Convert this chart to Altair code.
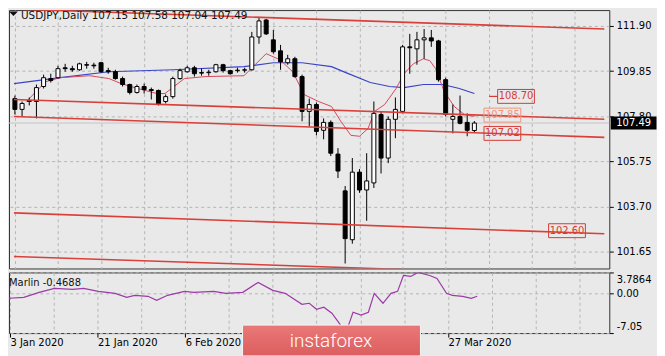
import altair as alt
import pandas as pd

# ---------------- data ----------------
# daily candles, bar index 0 = 3 Jan 2020
c_open = [108.60, 108.11, 108.51, 108.47, 109.15, 109.51, 109.55, 110.00, 109.96, 109.91,
          110.14, 110.12, 110.23, 109.87, 109.82, 109.51, 109.24, 108.88, 109.15, 109.01,
          108.97, 108.47, 108.69, 109.51, 109.82, 110.00, 109.78, 109.78, 109.82, 110.14,
          109.87, 109.87, 109.89, 109.91, 111.40, 112.17, 111.27, 110.77, 110.23, 110.41,
          109.60, 108.02, 108.33, 107.16, 107.52, 106.08, 104.41, 102.19, 105.26, 104.45,
          104.77, 107.88, 105.90, 107.66, 108.02, 110.95, 110.86, 111.27, 111.36, 111.22,
          109.46, 107.66, 107.79, 107.52, 107.15]
c_high = [108.74, 108.47, 108.65, 109.24, 109.69, 109.73, 110.09, 110.18, 110.09, 110.23,
          110.27, 110.23, 110.27, 110.00, 109.91, 109.60, 109.28, 109.24, 109.28, 109.10,
          109.01, 108.79, 109.60, 109.96, 110.09, 110.09, 109.96, 109.91, 110.18, 110.18,
          109.91, 110.00, 110.00, 111.63, 112.31, 112.22, 111.72, 111.04, 110.59, 110.50,
          109.69, 108.60, 108.42, 107.70, 107.61, 106.35, 104.63, 105.90, 105.40, 106.12,
          108.47, 108.02, 107.79, 108.65, 111.04, 111.54, 111.63, 111.76, 111.72, 111.27,
          109.55, 108.33, 108.74, 107.93, 107.58]
c_low = [107.88, 107.79, 108.29, 107.70, 109.06, 109.33, 109.51, 109.82, 109.82, 109.87,
         109.96, 109.96, 109.78, 109.73, 109.46, 109.15, 108.79, 108.83, 108.83, 108.56,
         108.29, 108.38, 108.60, 109.46, 109.78, 109.60, 109.64, 109.64, 109.78, 109.78,
         109.69, 109.78, 109.78, 109.87, 111.09, 111.49, 110.64, 109.91, 110.14, 109.55,
         107.57, 107.34, 106.93, 106.75, 105.99, 104.99, 101.11, 102.01, 104.32, 103.05,
         104.54, 105.20, 105.67, 106.80, 107.93, 109.73, 110.14, 110.41, 110.95, 109.37,
         107.79, 107.02, 107.43, 106.89, 107.04]
c_close = [108.11, 108.38, 108.47, 109.10, 109.55, 109.42, 109.96, 109.96, 109.91, 110.18,
           110.12, 110.09, 109.82, 109.82, 109.51, 109.24, 108.88, 109.15, 109.01, 108.97,
           108.33, 108.69, 109.51, 109.87, 110.00, 109.73, 109.76, 109.80, 110.14, 109.87,
           109.73, 109.89, 109.91, 111.40, 112.13, 111.54, 110.73, 110.27, 110.41, 109.60,
           108.02, 108.33, 107.11, 107.52, 106.12, 105.31, 102.24, 105.26, 104.45, 104.86,
           107.93, 105.90, 107.66, 108.11, 110.95, 110.91, 111.27, 111.36, 111.22, 109.46,
           107.88, 107.79, 107.48, 107.16, 107.49]

# slow moving average (blue)
blue_idx = [-0.13, 6.3, 13.1, 22.1, 31.9, 36.0, 40.0, 44.1, 46.1, 49.5, 52.2, 54.2, 56.9, 59.6, 61.9, 64.0]
blue_val = [109.28, 109.55, 109.82, 109.91, 110.05, 110.23, 110.23, 110.05, 109.78, 109.33,
            109.15, 109.10, 109.24, 109.24, 109.06, 108.83]

# fast moving average (thin red)
red_idx = [1.6, 4.3, 6.3, 10.4, 13.1, 14.8, 17.1, 19.8, 20.9, 23.6, 26.5, 31.9, 32.9, 35.0,
           36.9, 38.7, 40.3, 42.3, 44.1, 45.4, 46.8, 48.0, 49.2, 50.1, 51.5, 53.1, 54.2, 55.5,
           56.9, 57.8, 58.6, 59.8, 61.2, 62.6, 64.0]
red_val = [108.47, 109.37, 109.55, 109.64, 109.51, 109.28, 109.06, 108.83, 108.83, 109.51,
           109.60, 109.64, 109.96, 110.64, 110.37, 109.82, 108.78, 108.47, 108.24, 107.57,
           106.93, 106.89, 107.25, 108.02, 108.33, 109.06, 109.73, 110.18, 110.41, 110.32,
           109.96, 108.92, 108.24, 107.88, 107.79]

# channel lines (start / end)
chan_names = ["c1", "c2", "c3", "c4", "c5"]
chan_idx0, chan_idx1 = -0.13, 82.1
chan_start = [112.67, 108.56, 107.79, 103.41, 101.43]
chan_end = [111.76, 107.66, 106.84, 102.46, 100.53]

# level labels
lvl_text = ["108.70", "107.85", "107.02", "102.60"]
lvl_val = [108.70, 107.85, 107.02, 102.60]
lvl_idx = [69.8, 67.9, 67.9, 76.9]
lvl_col = ["#d63a34", "#f0957c", "#d63a34", "#d63a34"]
lead_idx = [66.05, 67.26]

bid = 107.49
title_text = "USDJPY,Daily 107.15 107.58 107.04 107.49"

# Marlin oscillator
m_idx = [-0.13, 1.9, 4.0, 6.1, 8.6, 10.1, 12.1, 14.4, 16.0, 17.1, 18.9, 20.1, 21.6, 23.9, 25.2,
         27.9, 29.6, 31.9, 34.0, 36.0, 37.7, 40.0, 41.0, 42.0, 43.0, 44.1, 45.0, 46.0, 47.0,
         48.1, 49.1, 49.9, 51.1, 52.2, 53.1, 53.9, 54.9, 55.9, 57.5, 58.5, 59.8, 60.6, 62.0,
         63.2, 64.0]
m_val = [-0.83, -0.66, 0.23, 0.94, 0.76, 0.94, 0.41, 0.05, -0.66, -0.30, -0.48, -1.19, -0.30,
         0.41, 0.23, 0.41, 0.05, 0.23, 2.01, 0.59, 0.05, -1.90, -1.72, -2.79, -2.43, -3.50,
         -5.10, -7.05, -3.32, -3.85, -3.32, 0.05, -1.72, 0.05, 0.41, 3.25, 3.07, 3.79, 3.25,
         2.72, 0.05, -0.30, -0.48, -0.83, -0.47]
marlin_label = "Marlin -0.4688"

price_ticks = [111.90, 109.85, 107.80, 105.75, 103.70, 101.65]
marlin_ticks = [3.7864, 0.0, -7.05]
marlin_tick_labels = ["3.7864", "0.00", "-7.05"]
date_tick_idx = [0, 12, 24, 36, 48, 60]
# labels at 24 Feb and 11 Mar are hidden under the watermark in the original
date_tick_labels = ["3 Jan 2020", "21 Jan 2020", "6 Feb 2020", "", "", "27 Mar 2020"]
grid_idx = list(range(0, 84, 6))

# ---------------- styling ----------------
FONT = "DejaVu Sans"
BG = "#e9e9e9"
GRID = "#b4b4b4"
W, H_MAIN, H_IND = 604, 260, 61

xs = alt.Scale(domain=[-0.13, 82.1], nice=False, zero=False)
ys = alt.Scale(domain=[100.884, 112.622], nice=False, zero=False)
ms = alt.Scale(domain=[-7.05, 3.7864], nice=False, zero=False)

x_axis_main = alt.Axis(values=grid_idx, grid=True, gridColor=GRID, gridDash=[3, 3],
                       labels=False, ticks=False, domain=False, title=None)
y_axis_main = alt.Axis(orient="right", values=price_ticks, format=".2f", grid=True,
                       gridColor=GRID, gridDash=[3, 3], tickSize=4, tickColor="#000",
                       domain=False, title=None, labelPadding=3)


def X(field="idx"):
    return alt.X(f"{field}:Q", scale=xs, axis=x_axis_main)


def Y(field):
    return alt.Y(f"{field}:Q", scale=ys, axis=y_axis_main)


candles = pd.DataFrame({"idx": list(range(len(c_open))), "open": c_open, "high": c_high,
                        "low": c_low, "close": c_close})

bid_rule = alt.Chart(pd.DataFrame({"price": [bid]})).mark_rule(
    color="#c6c6c6", strokeWidth=1).encode(y=Y("price"))

blue = alt.Chart(pd.DataFrame({"idx": blue_idx, "price": blue_val})).mark_line(
    color="#3a44c6", strokeWidth=1.2, clip=True).encode(x=X(), y=Y("price"))

red = alt.Chart(pd.DataFrame({"idx": red_idx, "price": red_val})).mark_line(
    color="#d8485c", strokeWidth=1, clip=True).encode(x=X(), y=Y("price"))

wicks = alt.Chart(candles).mark_rule(color="#000", strokeWidth=1).encode(
    x=X(), y=Y("low"), y2="high")

bodies = alt.Chart(candles).mark_bar(size=4, stroke="#000", strokeWidth=1).encode(
    x=X(), y=Y("open"), y2="close",
    color=alt.condition("datum.close >= datum.open", alt.value("#ffffff"), alt.value("#000000")))

chan_rows = []
for n, a, b in zip(chan_names, chan_start, chan_end):
    chan_rows.append({"line": n, "idx": chan_idx0, "price": a})
    chan_rows.append({"line": n, "idx": chan_idx1, "price": b})
channels = alt.Chart(pd.DataFrame(chan_rows)).mark_line(
    color="#d9403a", strokeWidth=1.6, clip=True).encode(
    x=X(), y=Y("price"), detail="line:N")

lvl_df = pd.DataFrame({"idx": lvl_idx, "price": lvl_val, "t": lvl_text, "col": lvl_col})
lvl_box = alt.Chart(lvl_df).mark_point(
    shape="M-1,-0.378L1,-0.378L1,0.378L-1,0.378Z", size=1369, filled=False,
    strokeWidth=1, opacity=1).encode(x=X(), y=Y("price"), color=alt.Color("col:N", scale=None))
lvl_txt = alt.Chart(lvl_df).mark_text(font=FONT, fontSize=10, align="center",
                                      baseline="middle").encode(
    x=X(), y=Y("price"), text="t:N", color=alt.Color("col:N", scale=None))
lead = alt.Chart(pd.DataFrame({"a": [lead_idx[0]], "b": [lead_idx[1]], "price": [lvl_val[0]]})
                 ).mark_rule(color="#d63a34", strokeWidth=1.2).encode(
    x=X("a"), x2="b", y=Y("price"))

title_df = pd.DataFrame({"t": [title_text]})
title = alt.Chart(title_df).mark_text(font=FONT, fontSize=10.5, align="left",
                                      baseline="alphabetic", color="#111").encode(
    x=alt.value(12), y=alt.value(8.6), text="t:N")
tri = alt.Chart(title_df).mark_point(shape="M-1,-0.5L1,-0.5L0,0.5Z", size=81, filled=True,
                                     color="#111", opacity=1).encode(
    x=alt.value(4.5), y=alt.value(3.8))

tag_df = pd.DataFrame({"price": [bid], "t": [f"{bid:.2f}"]})
tag_box = alt.Chart(tag_df).mark_point(
    shape="M-1,-0.283L1,-0.283L1,0.283L-1,0.283Z", size=2116, filled=True,
    color="#000", opacity=1).encode(x=alt.value(W + 24.5), y=Y("price"))
tag_txt = alt.Chart(tag_df).mark_text(font=FONT, fontSize=10, align="center",
                                      baseline="middle", color="#fff").encode(
    x=alt.value(W + 24.5), y=Y("price"), text="t:N")

main = alt.layer(bid_rule, blue, red, wicks, bodies, channels, lead, lvl_box, lvl_txt,
                 title, tri, tag_box, tag_txt).properties(width=W, height=H_MAIN)

# ---------------- indicator panel ----------------
x_label_expr = " : ".join(f"datum.value == {v} ? '{t}'"
                          for v, t in zip(date_tick_idx, date_tick_labels)) + " : ''"
m_label_expr = " : ".join(f"abs(datum.value - ({v})) < 0.001 ? '{t}'"
                          for v, t in zip(marlin_ticks, marlin_tick_labels)) + " : ''"

x_axis_ind = alt.Axis(values=grid_idx, grid=True, gridColor=GRID, gridDash=[3, 3],
                      labelExpr=x_label_expr, labelOverlap=False, labelFlush=False,
                      labelAlign="left", labelPadding=1, tickSize=4, tickColor="#000",
                      tickOpacity={"condition": {"test": f"indexof({date_tick_idx}, datum.value) >= 0",
                                                 "value": 1}, "value": 0},
                      domain=False, title=None)
y_axis_ind = alt.Axis(orient="right", values=marlin_ticks, labelExpr=m_label_expr,
                      grid=True, gridColor=GRID, gridDash=[3, 3], tickSize=4,
                      tickColor="#000", domain=False, title=None, labelPadding=3,
                      labelFlush=True, labelFlushOffset=-2, labelOverlap=False)

marlin = alt.Chart(pd.DataFrame({"idx": m_idx, "v": m_val})).mark_line(
    color="#9c3aa6", strokeWidth=1.2, clip=True).encode(
    x=alt.X("idx:Q", scale=xs, axis=x_axis_ind),
    y=alt.Y("v:Q", scale=ms, axis=y_axis_ind))

one = pd.DataFrame({"t": [marlin_label], "logo": ["instaforex"]})
m_text = alt.Chart(one).mark_text(font=FONT, fontSize=10, align="left",
                                  baseline="alphabetic", color="#111").encode(
    x=alt.value(0), y=alt.value(14), text="t:N")

logo_rect = alt.Chart(one).mark_rect(
    color={"gradient": "linear", "x1": 0, "y1": 0, "x2": 0, "y2": 1,
           "stops": [{"offset": 0, "color": "#ea7878"}, {"offset": 1, "color": "#dc5e5e"}]},
    stroke="#f4f4f4", strokeWidth=1).encode(
    x=alt.value(235), x2=alt.value(414), y=alt.value(53), y2=alt.value(84))
logo_text = alt.Chart(one).mark_text(font="Roboto", fontSize=19, fontWeight=300,
                                     align="center", baseline="alphabetic",
                                     color="#ffffff").encode(
    x=alt.value(324), y=alt.value(75), text="logo:N")

ind = alt.layer(marlin, m_text, logo_rect, logo_text).properties(width=W, height=H_IND)

chart = alt.vconcat(main, ind, spacing=4, bounds="flush", padding=0).configure(
    background=BG
).configure_view(
    fill=BG, stroke="#333333", strokeWidth=1
).configure_axis(
    labelFont=FONT, labelFontSize=10, labelColor="#000000"
)

chart.save("out.html", embed_options={"renderer": "svg", "actions": False})
